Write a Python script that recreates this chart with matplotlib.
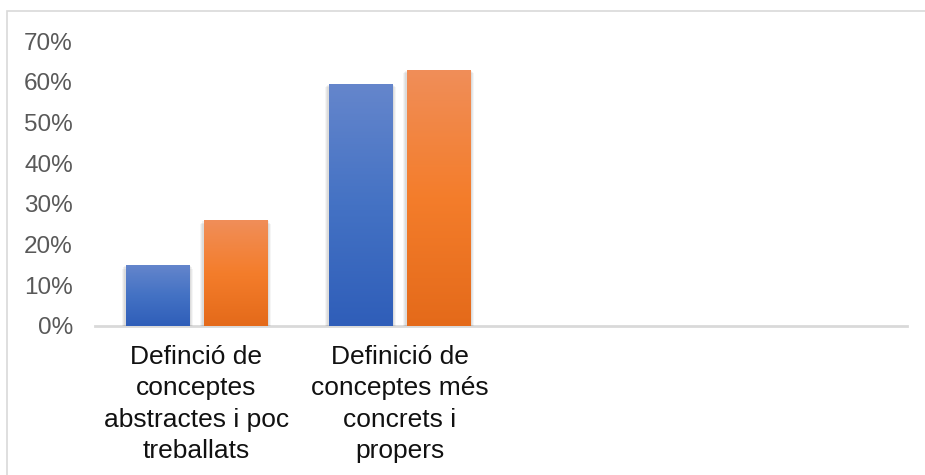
import numpy as np
import matplotlib.pyplot as plt
from matplotlib.colors import LinearSegmentedColormap
from matplotlib.patches import Rectangle
from matplotlib.ticker import PercentFormatter

categories = ["Definció de\nconceptes\nabstractes i poc\ntreballats",
              "Definició de\nconceptes més\nconcrets i\npropers",
              "", ""]
serie_blava = [15, 59.5]
serie_taronja = [26, 63]

plt.rcParams["font.family"] = ["Liberation Sans", "DejaVu Sans"]

fig = plt.figure(figsize=(9.25, 4.75), dpi=100)
ax = fig.add_axes([95 / 925, 149 / 475, 812 / 925, 285 / 475])

# light frame around the whole chart area
fig.patches.append(Rectangle((7 / 925, -0.1), 1.2, (475 - 11) / 475 + 0.1,
                             transform=fig.transFigure, fill=False,
                             edgecolor="#d9d9d9", linewidth=1.2))

blau = LinearSegmentedColormap.from_list("blau", ["#2f5eb9", "#4472c4", "#6586cc"])
taronja = LinearSegmentedColormap.from_list("taronja", ["#e46a1a", "#f47d2b", "#f08e59"])

width = 0.315
offset = 0.192
x = np.arange(len(categories))
grad = np.linspace(0, 1, 256).reshape(-1, 1)


def gradient_bars(xs, vals, cmap):
    bars = ax.bar(xs, vals, width, color="none", zorder=3)
    for b in bars:
        x0, y0 = b.get_x(), b.get_y()
        w, h = b.get_width(), b.get_height()
        # soft shadow
        for k, a in enumerate([0.05, 0.05, 0.04]):
            d = 0.006 * (k + 1)
            ax.add_patch(Rectangle((x0 - d, y0 - 0.6 * (k + 1)), w + 2 * d, h + 0.3 * (k + 1),
                                   facecolor="black", alpha=a, linewidth=0, zorder=2))
        im = ax.imshow(grad, cmap=cmap, origin="lower", aspect="auto",
                       extent=(x0, x0 + w, y0, y0 + h), zorder=3)
        im.set_clip_path(b)


gradient_bars(x[:2] - offset, serie_blava, blau)
gradient_bars(x[:2] + offset, serie_taronja, taronja)

ax.set_xlim(-0.5, len(categories) - 0.5)
ax.set_ylim(0, 70)
ax.set_yticks(range(0, 71, 10))
ax.yaxis.set_major_formatter(PercentFormatter(decimals=0))
ax.set_xticks(x)
ax.set_xticklabels(categories, fontsize=19, color="#111111", linespacing=1.37)

for s in ["top", "right", "left"]:
    ax.spines[s].set_visible(False)
ax.spines["bottom"].set_color("#d9d9d9")
ax.spines["bottom"].set_linewidth(2)
ax.spines["bottom"].set_zorder(1)
ax.tick_params(axis="y", length=0, pad=16, labelsize=17.5, labelcolor="#595959")
ax.tick_params(axis="x", length=0, pad=14)

fig.savefig("out.png", dpi=100)
